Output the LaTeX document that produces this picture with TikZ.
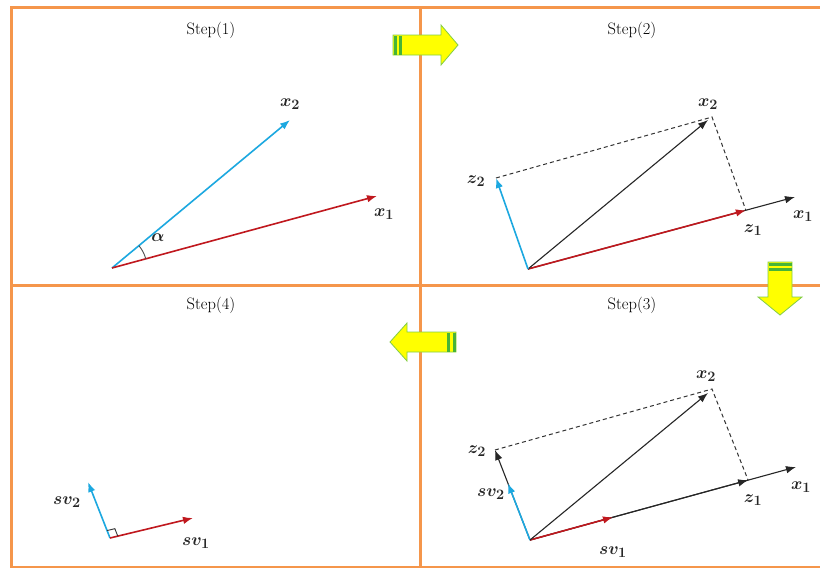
\documentclass[tikz,border=0pt]{standalone}
\usepackage{amsmath,bm}
\usetikzlibrary{arrows.meta,calc}
\definecolor{frameorange}{RGB}{245,150,75}
\definecolor{vecblue}{RGB}{28,168,224}
\definecolor{vecred}{RGB}{192,24,30}
\definecolor{fatyellow}{RGB}{255,255,0}
\definecolor{fatedge}{RGB}{130,205,70}
\definecolor{fatstripe}{RGB}{70,180,55}
\tikzset{
  frameline/.style={draw=frameorange,line width=3pt},
  title/.style={font=\fontsize{16.5}{19}\selectfont,inner sep=0pt},
  lab/.style={font=\fontsize{19}{22}\selectfont,inner sep=0pt,text=black!85},
  tipstyle/.style={-{Latex[length=10pt,width=7.5pt]}},
  bluevec/.style={tipstyle,draw=vecblue,line width=1.6pt},
  redvec/.style={tipstyle,draw=vecred,line width=1.6pt},
  blackvec/.style={tipstyle,draw=black!85,line width=1.1pt},
  dashline/.style={draw=black!80,line width=1pt,dash pattern=on 4pt off 3pt},
  fatarrow/.style={fill=fatyellow,draw=fatedge,line width=0.8pt,line join=miter},
  fatstripes/.style={fill=fatstripe},
  anglemark/.style={draw=black!70,line width=0.9pt}
}
\begin{document}
\begin{tikzpicture}[x=1pt,y=-1pt]
\useasboundingbox (0,0) rectangle (820,568);
\fill[white] (0,0) rectangle (820,568);
% frame
\draw[frameline] (822,7) -- (11,7) -- (11,567) -- (822,567);
\draw[frameline] (420,7) -- (420,567);
\draw[frameline] (11,285) -- (822,285);
% titles
\node[title] (t1) at (211,30) {Step(1)};
\node[title] (t2) at (632,30) {Step(2)};
\node[title] (t3) at (632,305) {Step(3)};
\node[title] (t4) at (211,305) {Step(4)};
% fat arrows
\draw[fatarrow] (393,35) -- (441,35) -- (441,25) -- (458,45) -- (441,65) -- (441,55) -- (393,55) -- cycle;
\fill[fatstripes] (393.5,35.5) rectangle (396.5,54.5);
\fill[fatstripes] (399,35.5) rectangle (402,54.5);
\draw[fatarrow] (768,262) -- (792,262) -- (792,297) -- (802,297) -- (780,315) -- (758,297) -- (768,297) -- cycle;
\fill[fatstripes] (768.5,262.5) rectangle (791.5,265.5);
\fill[fatstripes] (768.5,268) rectangle (791.5,271);
\draw[fatarrow] (456,332) -- (407,332) -- (407,323) -- (390,342) -- (407,361) -- (407,352) -- (456,352) -- cycle;
\fill[fatstripes] (455.5,332.5) rectangle (452.5,351.5);
\fill[fatstripes] (450,332.5) rectangle (447,351.5);
% ---------- Step 1
\coordinate (o1) at (112,268);
\coordinate (s1x2) at (290,120);
\coordinate (s1x1) at (377,196);
\draw[bluevec] (o1) -- (s1x2);
\draw[redvec] (o1) -- (s1x1);
\draw[anglemark] (o1) ++(15.2:35pt) arc[start angle=15.2,end angle=39.7,radius=35pt];
\node[lab] (l1x2) at (290,104) {$\bm{x}_{\bm{2}}$};
\node[lab] (l1x1) at (384,214) {$\bm{x}_{\bm{1}}$};
\node[lab] (l1a) at (158,238) {$\bm{\alpha}$};
% ---------- Step 2
\coordinate (o2) at (528,269);
\coordinate (s2x1) at (795,197);
\coordinate (s2z1) at ($(o2)!0.816!(s2x1)$);
\coordinate (s2x2) at (708,120);
\coordinate (s2c) at (712,117);
\coordinate (s2z2) at (496,178);
\draw[blackvec] (o2) -- (s2x1);
\draw[redvec] (o2) -- (s2z1);
\draw[blackvec] (o2) -- (s2x2);
\draw[bluevec] (o2) -- (s2z2);
\draw[dashline] (s2z2) -- (s2c) -- (s2z1);
\node[lab] (l2x2) at (708,104) {$\bm{x}_{\bm{2}}$};
\node[lab] (l2z2) at (476,181) {$\bm{z}_{\bm{2}}$};
\node[lab] (l2x1) at (803,216) {$\bm{x}_{\bm{1}}$};
\node[lab] (l2z1) at (753,230) {$\bm{z}_{\bm{1}}$};
% ---------- Step 3
\coordinate (o3) at (530,540);
\coordinate (s3x1) at (796,467);
\coordinate (s3z1) at ($(o3)!0.82!(s3x1)$);
\coordinate (s3sv1) at ($(o3)!0.312!(s3x1)$);
\coordinate (s3z2) at (495,450);
\coordinate (s3sv2) at ($(o3)!0.63!(s3z2)$);
\coordinate (s3x2) at (708,393);
\coordinate (s3c) at (712,389);
\draw[blackvec] (o3) -- (s3x1);
\draw[blackvec] (o3) -- (s3z1);
\draw[redvec] (o3) -- (s3sv1);
\draw[blackvec] (o3) -- (s3z2);
\draw[bluevec] (o3) -- (s3sv2);
\draw[blackvec] (o3) -- (s3x2);
\draw[dashline] (s3z2) -- (s3c) -- (s3z1);
\node[lab] (l3x2) at (706,376) {$\bm{x}_{\bm{2}}$};
\node[lab] (l3z2) at (477,451) {$\bm{z}_{\bm{2}}$};
\node[lab] (l3x1) at (801,487) {$\bm{x}_{\bm{1}}$};
\node[lab] (l3z1) at (753,500) {$\bm{z}_{\bm{1}}$};
\node[lab] (l3sv2) at (491,494) {$\bm{sv}_{\bm{2}}$};
\node[lab] (l3sv1) at (613,552) {$\bm{sv}_{\bm{1}}$};
% ---------- Step 4
\coordinate (o4) at (110,538);
\coordinate (s4sv1) at (193,518);
\coordinate (s4sv2) at (88,482);
\draw[bluevec] (o4) -- (s4sv2);
\draw[redvec] (o4) -- (s4sv1);
\coordinate (m4a) at ($(o4)!8pt!(s4sv1)$);
\coordinate (m4b) at ($(o4)!8pt!(s4sv2)$);
\coordinate (m4c) at ($(m4a)+(m4b)-(o4)$);
\draw[anglemark,draw=black!80] (m4a) -- (m4c) -- (m4b);
\node[lab] (l4sv2) at (67,502) {$\bm{sv}_{\bm{2}}$};
\node[lab] (l4sv1) at (196,543) {$\bm{sv}_{\bm{1}}$};
\end{tikzpicture}
\end{document}
